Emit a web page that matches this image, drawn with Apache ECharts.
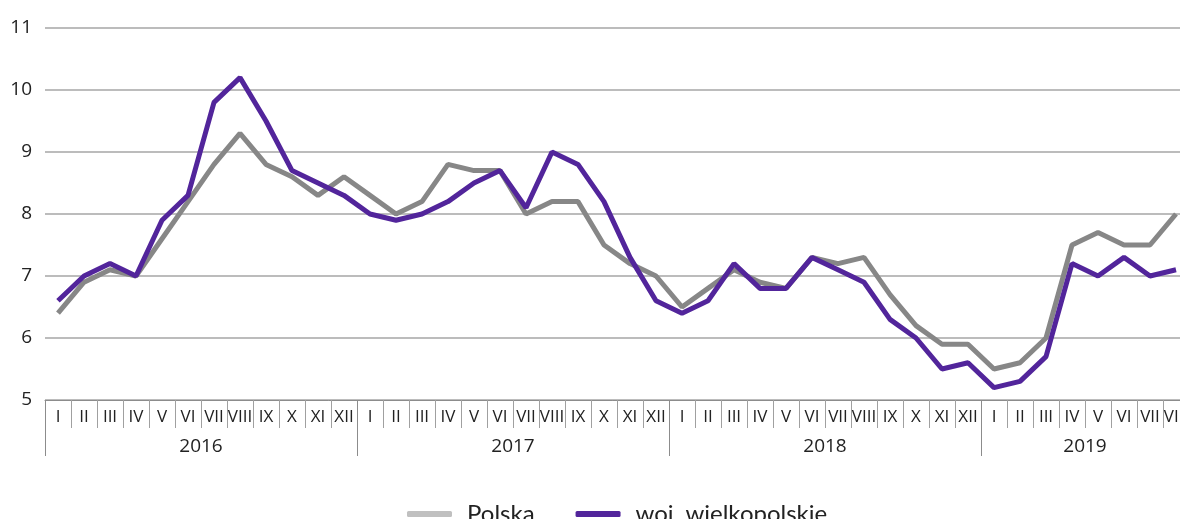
<!DOCTYPE html>
<html>
<head>
<meta charset="utf-8">
<script src="https://cdn.jsdelivr.net/npm/echarts@6/dist/echarts.min.js"></script>
<style>
  html, body { margin: 0; padding: 0; background: #fff; }
  #chart { width: 1180px; height: 519px; }
</style>
</head>
<body>
<div id="chart"></div>
<script>
// ========== 数据 ==========
const years = ["2016", "2017", "2018", "2019"];
const monthsPerYear = [12, 12, 12, 8];
const monthNames = ["I", "II", "III", "IV", "V", "VI", "VII", "VIII", "IX", "X", "XI", "XII"];

const polska = [
  6.4, 6.9, 7.1, 7.0, 7.6, 8.2, 8.8, 9.3, 8.8, 8.6, 8.3, 8.6,
  8.3, 8.0, 8.2, 8.8, 8.7, 8.7, 8.0, 8.2, 8.2, 7.5, 7.2, 7.0,
  6.5, 6.8, 7.1, 6.9, 6.8, 7.3, 7.2, 7.3, 6.7, 6.2, 5.9, 5.9,
  5.5, 5.6, 6.0, 7.5, 7.7, 7.5, 7.5, 8.0,
];
const wielkopolskie = [
  6.6, 7.0, 7.2, 7.0, 7.9, 8.3, 9.8, 10.2, 9.5, 8.7, 8.5, 8.3,
  8.0, 7.9, 8.0, 8.2, 8.5, 8.7, 8.1, 9.0, 8.8, 8.2, 7.3, 6.6,
  6.4, 6.6, 7.2, 6.8, 6.8, 7.3, 7.1, 6.9, 6.3, 6.0, 5.5, 5.6,
  5.2, 5.3, 5.7, 7.2, 7.0, 7.3, 7.0, 7.1,
];

// ========== 坐标轴 ==========
const categories = [];
monthsPerYear.forEach((n, yi) => {
  for (let m = 0; m < n; m++) categories.push(years[yi] + "-" + monthNames[m]);
});
const total = categories.length;

// 年份分界与年份标签位置
const yearBounds = [0];
const yearCenters = [];
monthsPerYear.forEach((n) => {
  const start = yearBounds[yearBounds.length - 1];
  yearCenters.push(start + n / 2);
  yearBounds.push(start + n);
});

const font = "Open Sans";
const chart = echarts.init(document.getElementById("chart"));

chart.setOption({
  animation: false,
  grid: {
    left: 45,
    top: 28,
    width: total * 26,
    height: 372,
    containLabel: false,
    outerBoundsMode: "none",
  },
  legend: {
    left: 402,
    top: 497,
    itemWidth: 45,
    itemHeight: 6,
    itemGap: 41,
    icon: "roundRect",
    textStyle: { fontSize: 24, color: "#222", fontFamily: "Lato", padding: [0, 0, 0, 10] },
    data: [
      { name: "Polska", itemStyle: { color: "#c0c0c0" } },
      { name: "woj. wielkopolskie", itemStyle: { color: "#52259b" } },
    ],
  },
  xAxis: [
    {
      type: "category",
      data: categories,
      boundaryGap: true,
      axisLine: { show: true, lineStyle: { color: "#8c8c8c", width: 1 } },
      axisTick: { show: true, interval: 0, length: 28, lineStyle: { color: "#a0a0a0" } },
      axisLabel: {
        interval: 0,
        margin: 9,
        fontSize: 17,
        fontFamily: font,
        color: "#222",
        formatter: (v) => v.split("-")[1],
      },
    },
    {
      type: "value",
      min: 0,
      max: total,
      position: "bottom",
      splitLine: { show: false },
      axisLine: { show: false },
      axisTick: {
        show: true,
        length: 56,
        customValues: yearBounds,
        lineStyle: { color: "#8c8c8c" },
      },
      axisLabel: {
        margin: 37,
        fontSize: 19,
        fontFamily: font,
        color: "#222",
        customValues: yearCenters,
        formatter: (v) => years[yearCenters.indexOf(v)] || "",
      },
    },
  ],
  yAxis: {
    type: "value",
    min: 5,
    max: 11,
    interval: 1,
    axisLine: { show: false },
    axisTick: { show: false },
    splitLine: { lineStyle: { color: "#a6a6a6", width: 1.5 } },
    axisLabel: { margin: 13, fontSize: 19, fontFamily: font, color: "#222" },
  },
  series: [
    {
      name: "Polska",
      type: "line",
      data: polska,
      symbol: "none",
      lineStyle: { color: "#878787", width: 5 },
      itemStyle: { color: "#878787" },
    },
    {
      name: "woj. wielkopolskie",
      type: "line",
      data: wielkopolskie,
      symbol: "none",
      lineStyle: { color: "#52259b", width: 5 },
      itemStyle: { color: "#52259b" },
    },
  ],
});
</script>
</body>
</html>
